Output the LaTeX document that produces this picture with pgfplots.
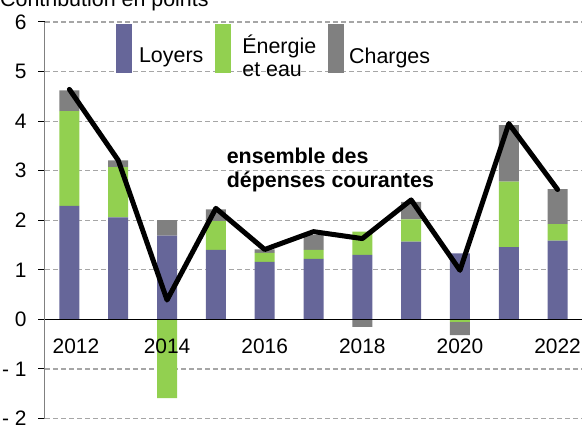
\documentclass[border=0pt]{standalone}
\usepackage{fontspec}
\setmainfont{Liberation Sans}
\usepackage{pgfplots}
\pgfplotsset{compat=1.18}
\definecolor{loy}{HTML}{666699}
\definecolor{ene}{HTML}{92D050}
\definecolor{cha}{HTML}{808080}
\definecolor{gridc}{HTML}{A6A6A6}

\pgfplotsset{common/.style={
  width=537bp, height=396.5bp, scale only axis,
  xmin=2011.5, xmax=2022.5, ymin=-2, ymax=6,
  xtick={2012,2014,...,2022}, ytick={-2,...,6},
}}

\begin{document}
\begin{tikzpicture}
% grid, positive bars, legend
\begin{axis}[common,
  ybar stacked, bar width=20bp,
  axis line style={draw=none}, tick style={draw=none},
  xticklabels={}, yticklabels={},
  ymajorgrids, grid style={gridc, line width=1.2bp, dash pattern=on 5bp off 3bp},
  legend columns=3,
  legend style={draw=none, fill=none, at={(0.132,0.995)}, anchor=north west,
    font=\fontsize{21.5}{23}\selectfont, inner sep=0pt,
    nodes={align=left, yshift=-4bp},
    /tikz/every even column/.append style={column sep=10bp}},
  legend cell align=left,
  legend image code/.code={\fill[#1,draw=none] (0bp,-21bp) rectangle (16bp,28bp);},
]
\addplot[fill=loy, draw=none] coordinates {(2012,2.29) (2013,2.06) (2014,1.69) (2015,1.40) (2016,1.16) (2017,1.22) (2018,1.30) (2019,1.57) (2020,1.33) (2021,1.46) (2022,1.59)};
\addlegendentry{\hspace{5bp}Loyers}
\addplot[fill=ene, draw=none] coordinates {(2012,1.91) (2013,1.01) (2014,0) (2015,0.58) (2016,0.18) (2017,0.18) (2018,0.47) (2019,0.45) (2020,0) (2021,1.32) (2022,0.33)};
\addlegendentry{\hspace{9bp}Énergie\\\hspace{9bp}et eau}
\addplot[fill=cha, draw=none] coordinates {(2012,0.42) (2013,0.14) (2014,0.31) (2015,0.24) (2016,0.07) (2017,0.30) (2018,0) (2019,0.35) (2020,0) (2021,1.14) (2022,0.71)};
\addlegendentry{\hspace{3bp}Charges}
\coordinate (sw) at (rel axis cs:0,0);
\coordinate (ne) at (rel axis cs:1,1);
\end{axis}
% negative bars
\begin{axis}[common, ybar stacked, bar width=20bp, hide axis]
\addplot[fill=ene, draw=none] coordinates {(2012,0) (2013,0) (2014,-1.59) (2015,0) (2016,0) (2017,0) (2018,0) (2019,0) (2020,-0.05) (2021,0) (2022,0)};
\addplot[fill=cha, draw=none] coordinates {(2012,0) (2013,0) (2014,0) (2015,0) (2016,0) (2017,0) (2018,-0.15) (2019,0) (2020,-0.27) (2021,0) (2022,0)};
\end{axis}
% axes, labels, total line
\begin{axis}[common,
  axis x line=middle, axis y line=left,
  x axis line style={-, black, line width=1.3bp},
  y axis line style={-, cha, line width=1bp},
  xticklabels={\hspace{13bp}2012,2014,2016,2018,2020,2022},
  yticklabels={- 2,- 1,0,1,2,3,4,5,6},
  hide obscured y ticks=false, hide obscured x ticks=false,
  xtick style={draw=none},
  ytick style={black, line width=1bp},
  ytick align=outside, major tick length=7bp,
  ticklabel style={font=\fontsize{21}{23}\selectfont},
  xticklabel style={yshift=-12bp},
  yticklabel style={xshift=-8bp},
]
\addplot[black, line width=5bp, line join=round, line cap=round] coordinates {(2012,4.64) (2013,3.21) (2014,0.39) (2015,2.24) (2016,1.41) (2017,1.77) (2018,1.63) (2019,2.41) (2020,0.99) (2021,3.95) (2022,2.62)};
\node[anchor=north west, inner sep=0pt, align=left, font=\bfseries\fontsize{21.5}{24}\selectfont] at (axis cs:2015.22,3.47) {ensemble des\\dépenses courantes};
\end{axis}
\node[anchor=base west, inner sep=0pt, font=\fontsize{21.5}{23}\selectfont] at ([xshift=-45bp, yshift=15.5bp]sw |- ne) {Contribution en points};
\pgfresetboundingbox
\useasboundingbox ([xshift=-45bp, yshift=-7.5bp]sw) rectangle ([yshift=22bp]ne);
\end{tikzpicture}
\end{document}
